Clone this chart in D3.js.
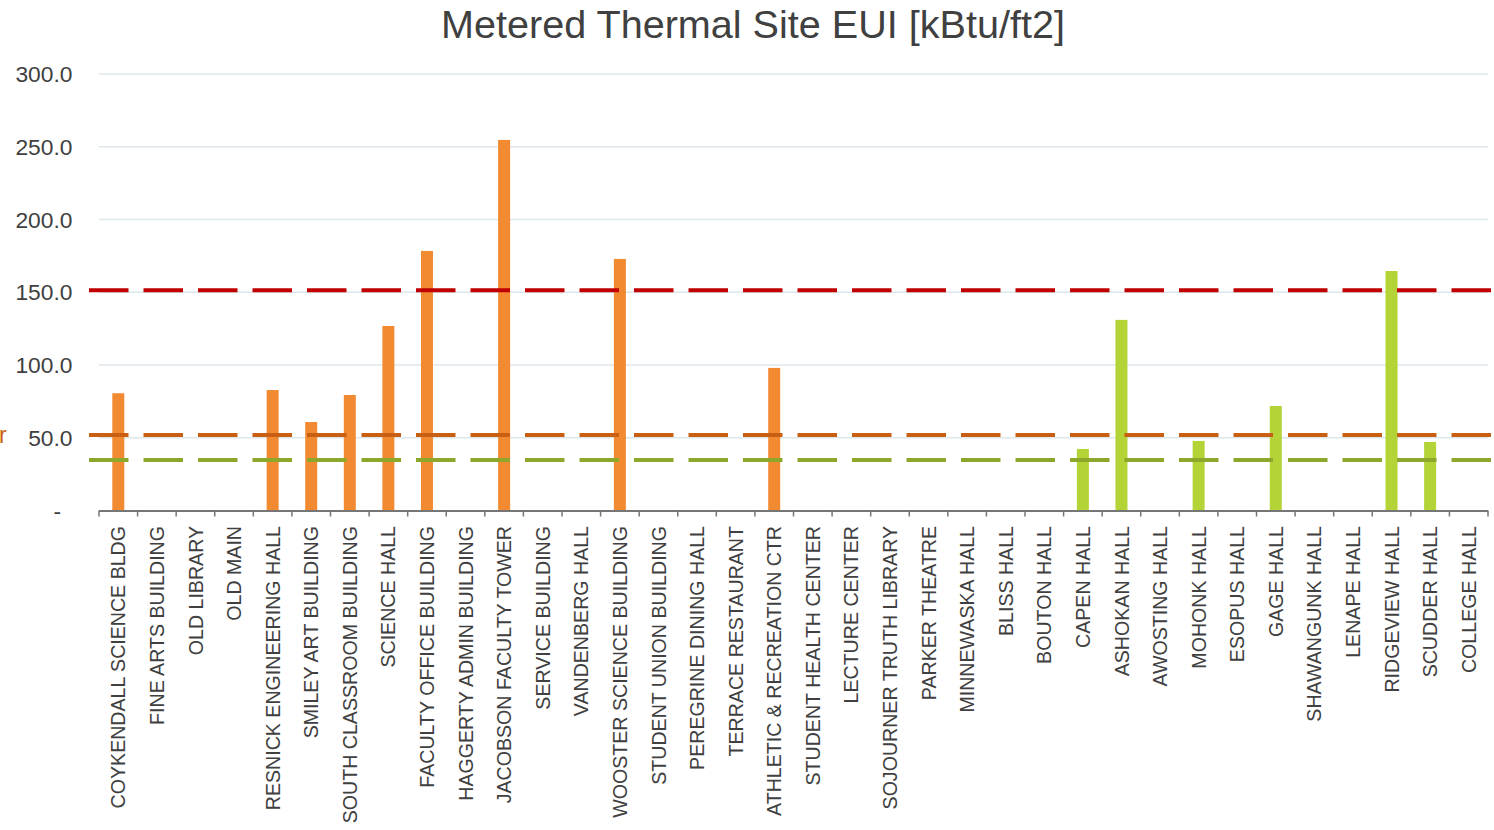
<!DOCTYPE html>
<html>
<head>
<meta charset="utf-8">
<script src="https://cdn.jsdelivr.net/npm/d3@7"></script>
<style>
  html, body { margin: 0; padding: 0; background: #fff; }
  svg { display: block; font-family: "Liberation Sans", Arial, sans-serif; }
</style>
</head>
<body>
<svg id="chart" width="1494" height="830"></svg>
<script>
// Building names along the x axis
const buildings = [
  "COYKENDALL SCIENCE BLDG", "FINE ARTS BUILDING", "OLD LIBRARY", "OLD MAIN",
  "RESNICK ENGINEERING HALL", "SMILEY ART BUILDING", "SOUTH CLASSROOM BUILDING",
  "SCIENCE HALL", "FACULTY OFFICE BUILDING", "HAGGERTY ADMIN BUILDING",
  "JACOBSON FACULTY TOWER", "SERVICE BUILDING", "VANDENBERG HALL",
  "WOOSTER SCIENCE BUILDING", "STUDENT UNION BUILDING", "PEREGRINE DINING HALL",
  "TERRACE RESTAURANT", "ATHLETIC & RECREATION CTR", "STUDENT HEALTH CENTER",
  "LECTURE CENTER", "SOJOURNER TRUTH LIBRARY", "PARKER THEATRE",
  "MINNEWASKA HALL", "BLISS HALL", "BOUTON HALL", "CAPEN HALL", "ASHOKAN HALL",
  "AWOSTING HALL", "MOHONK HALL", "ESOPUS HALL", "GAGE HALL", "SHAWANGUNK HALL",
  "LENAPE HALL", "RIDGEVIEW HALL", "SCUDDER HALL", "COLLEGE HALL"
];

// Metered thermal site EUI, kBtu/ft2 (0 = no metered data)
const eui = [
  80.6, 0, 0, 0, 82.8, 60.8, 79.4, 126.8, 178.4, 0,
  254.7, 0, 0, 172.9, 0, 0, 0, 98.0, 0, 0,
  0, 0, 0, 0, 0, 42.3, 131.0, 0, 47.8, 0,
  71.8, 0, 0, 164.6, 47.1, 0
];

// Building type: academic / residential
const buildingType = [
  "A","A","A","A","A","A","A","A","A","A",
  "A","A","A","A","A","A","A","A","A","A",
  "A","A","R","R","R","R","R","R","R","R",
  "R","R","R","R","R","R"
];

// Benchmark reference levels
const benchmarkNames = ["high", "academic", "residential"];
const benchmarkValues = [151.4, 51.9, 34.7];

// Y axis ticks
const yTicks = [0, 50, 100, 150, 200, 250, 300];
const yTickLabels = ["-", "50.0", "100.0", "150.0", "200.0", "250.0", "300.0"];

const chartTitle = "Metered Thermal Site EUI [kBtu/ft2]";

const typeColor = { A: "#F28A32", R: "#B3D336" };
const benchColor = { high: "#C00000", academic: "#C95F12", residential: "#8DA72A" };

const svg = d3.select("#chart");
const plotLeft = 99, plotRight = 1488, plotTop = 74, plotBottom = 510.5;

const x = d3.scaleBand().domain(buildings).range([plotLeft, plotRight]).padding(0);
const y = d3.scaleLinear().domain([0, 300]).range([plotBottom, plotTop]);

// Title
svg.append("text")
  .attr("x", 753).attr("y", 37.5)
  .attr("text-anchor", "middle")
  .attr("fill", "#404040")
  .attr("font-size", 39.6)
  .text(chartTitle);

// Horizontal gridlines
svg.append("g").selectAll("line")
  .data(yTicks.filter(d => d > 0))
  .join("line")
  .attr("x1", plotLeft).attr("x2", plotRight)
  .attr("y1", d => y(d)).attr("y2", d => y(d))
  .attr("stroke", "#DCE7EB").attr("stroke-width", 1.5);

// Y tick labels (zero shown as a dash, set in from the others)
svg.append("g").selectAll("text")
  .data(yTicks)
  .join("text")
  .attr("x", d => d === 0 ? 61 : 72.5)
  .attr("y", d => y(d))
  .attr("dy", "0.36em")
  .attr("text-anchor", "end")
  .attr("fill", "#404040")
  .attr("font-size", 22.8)
  .text((d, i) => yTickLabels[i]);

// Bars
const barW = 12;
svg.append("g").selectAll("rect")
  .data(buildings.map((b, i) => ({ b, v: eui[i], t: buildingType[i] })).filter(d => d.v > 0))
  .join("rect")
  .attr("x", d => x(d.b) + x.bandwidth() / 2 - barW / 2)
  .attr("width", barW)
  .attr("y", d => y(d.v))
  .attr("height", d => y(0) - y(d.v))
  .attr("fill", d => typeColor[d.t]);

// X axis line and ticks at category boundaries
const xAxis = svg.append("g");
xAxis.append("line")
  .attr("x1", plotLeft).attr("x2", plotRight)
  .attr("y1", plotBottom + 0.5).attr("y2", plotBottom + 0.5)
  .attr("stroke", "#767676").attr("stroke-width", 1.8);
xAxis.selectAll("line.tick")
  .data(buildings.map(b => x(b)).concat([plotRight]))
  .join("line")
  .attr("class", "tick")
  .attr("x1", d => d).attr("x2", d => d)
  .attr("y1", plotBottom).attr("y2", plotBottom + 6)
  .attr("stroke", "#767676").attr("stroke-width", 1.5);

// Category labels, rotated
xAxis.selectAll("text")
  .data(buildings)
  .join("text")
  .attr("transform", d => `translate(${x(d) + x.bandwidth() / 2},526) rotate(-90)`)
  .attr("text-anchor", "end")
  .attr("dy", "0.36em")
  .attr("fill", "#404040")
  .attr("font-size", 19.6)
  .text(d => d);

// Benchmark dashed lines
svg.append("g").selectAll("line")
  .data(benchmarkNames.map((n, i) => ({ n, v: benchmarkValues[i] })))
  .join("line")
  .attr("x1", 89).attr("x2", 1494)
  .attr("y1", d => y(d.v)).attr("y2", d => y(d.v))
  .attr("stroke", d => benchColor[d.n])
  .attr("stroke-width", 4)
  .attr("stroke-dasharray", "39.5,15");

// Partially visible benchmark label at left edge
svg.append("text")
  .attr("x", -1).attr("y", y(benchmarkValues[1]))
  .attr("dy", "0.36em")
  .attr("fill", "#C95F12")
  .attr("font-size", 23)
  .text("r");
</script>
</body>
</html>
